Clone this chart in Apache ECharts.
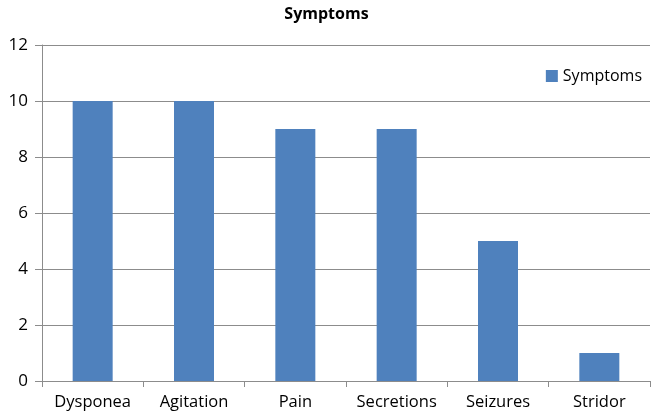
<!DOCTYPE html>
<html>
<head>
<meta charset="utf-8">
<script src="https://cdn.jsdelivr.net/npm/echarts@6/dist/echarts.min.js"></script>
<style>
  html, body { margin: 0; padding: 0; background: #ffffff; }
  #chart { width: 653px; height: 420px; }
</style>
</head>
<body>
<div id="chart"></div>
<script>
const categories = ["Dysponea", "Agitation", "Pain", "Secretions", "Seizures", "Stridor"];
const symptomValues = [10, 10, 9, 9, 5, 1];

const font = "'Open Sans', 'Noto Sans', sans-serif";
const myEcharts = echarts.init(document.getElementById("chart"));

myEcharts.setOption({
  animation: false,
  title: {
    text: "Symptoms",
    left: "center",
    top: 1,
    textStyle: { fontFamily: font, fontWeight: "bold", fontSize: 16, color: "#000" }
  },
  legend: {
    data: ["Symptoms"],
    right: 6,
    top: 63,
    icon: "rect",
    itemWidth: 12,
    itemHeight: 12,
    itemGap: 4,
    textStyle: { fontFamily: font, fontSize: 16, color: "#000" }
  },
  grid: { left: 42, right: 3, top: 45, bottom: 39 },
  xAxis: {
    type: "category",
    data: categories,
    axisLine: { lineStyle: { color: "#8c8c8c" } },
    axisTick: { show: true, interval: 0, alignWithLabel: false, length: 6, lineStyle: { color: "#8c8c8c" } },
    axisLabel: { interval: 0, hideOverlap: false, fontFamily: font, fontSize: 16.5, color: "#000", margin: 13 }
  },
  yAxis: {
    type: "value",
    min: 0,
    max: 12,
    interval: 2,
    axisLine: { show: true, lineStyle: { color: "#8c8c8c" } },
    axisTick: { show: true, inside: false, length: 7, lineStyle: { color: "#8c8c8c" } },
    axisLabel: { fontFamily: font, fontSize: 17, color: "#000", margin: 14 },
    splitLine: { show: true, lineStyle: { color: "#8c8c8c", width: 1 } }
  },
  series: [
    {
      name: "Symptoms",
      type: "bar",
      barWidth: 40,
      itemStyle: { color: "#4F81BD" },
      data: symptomValues
    }
  ]
});
</script>
</body>
</html>
